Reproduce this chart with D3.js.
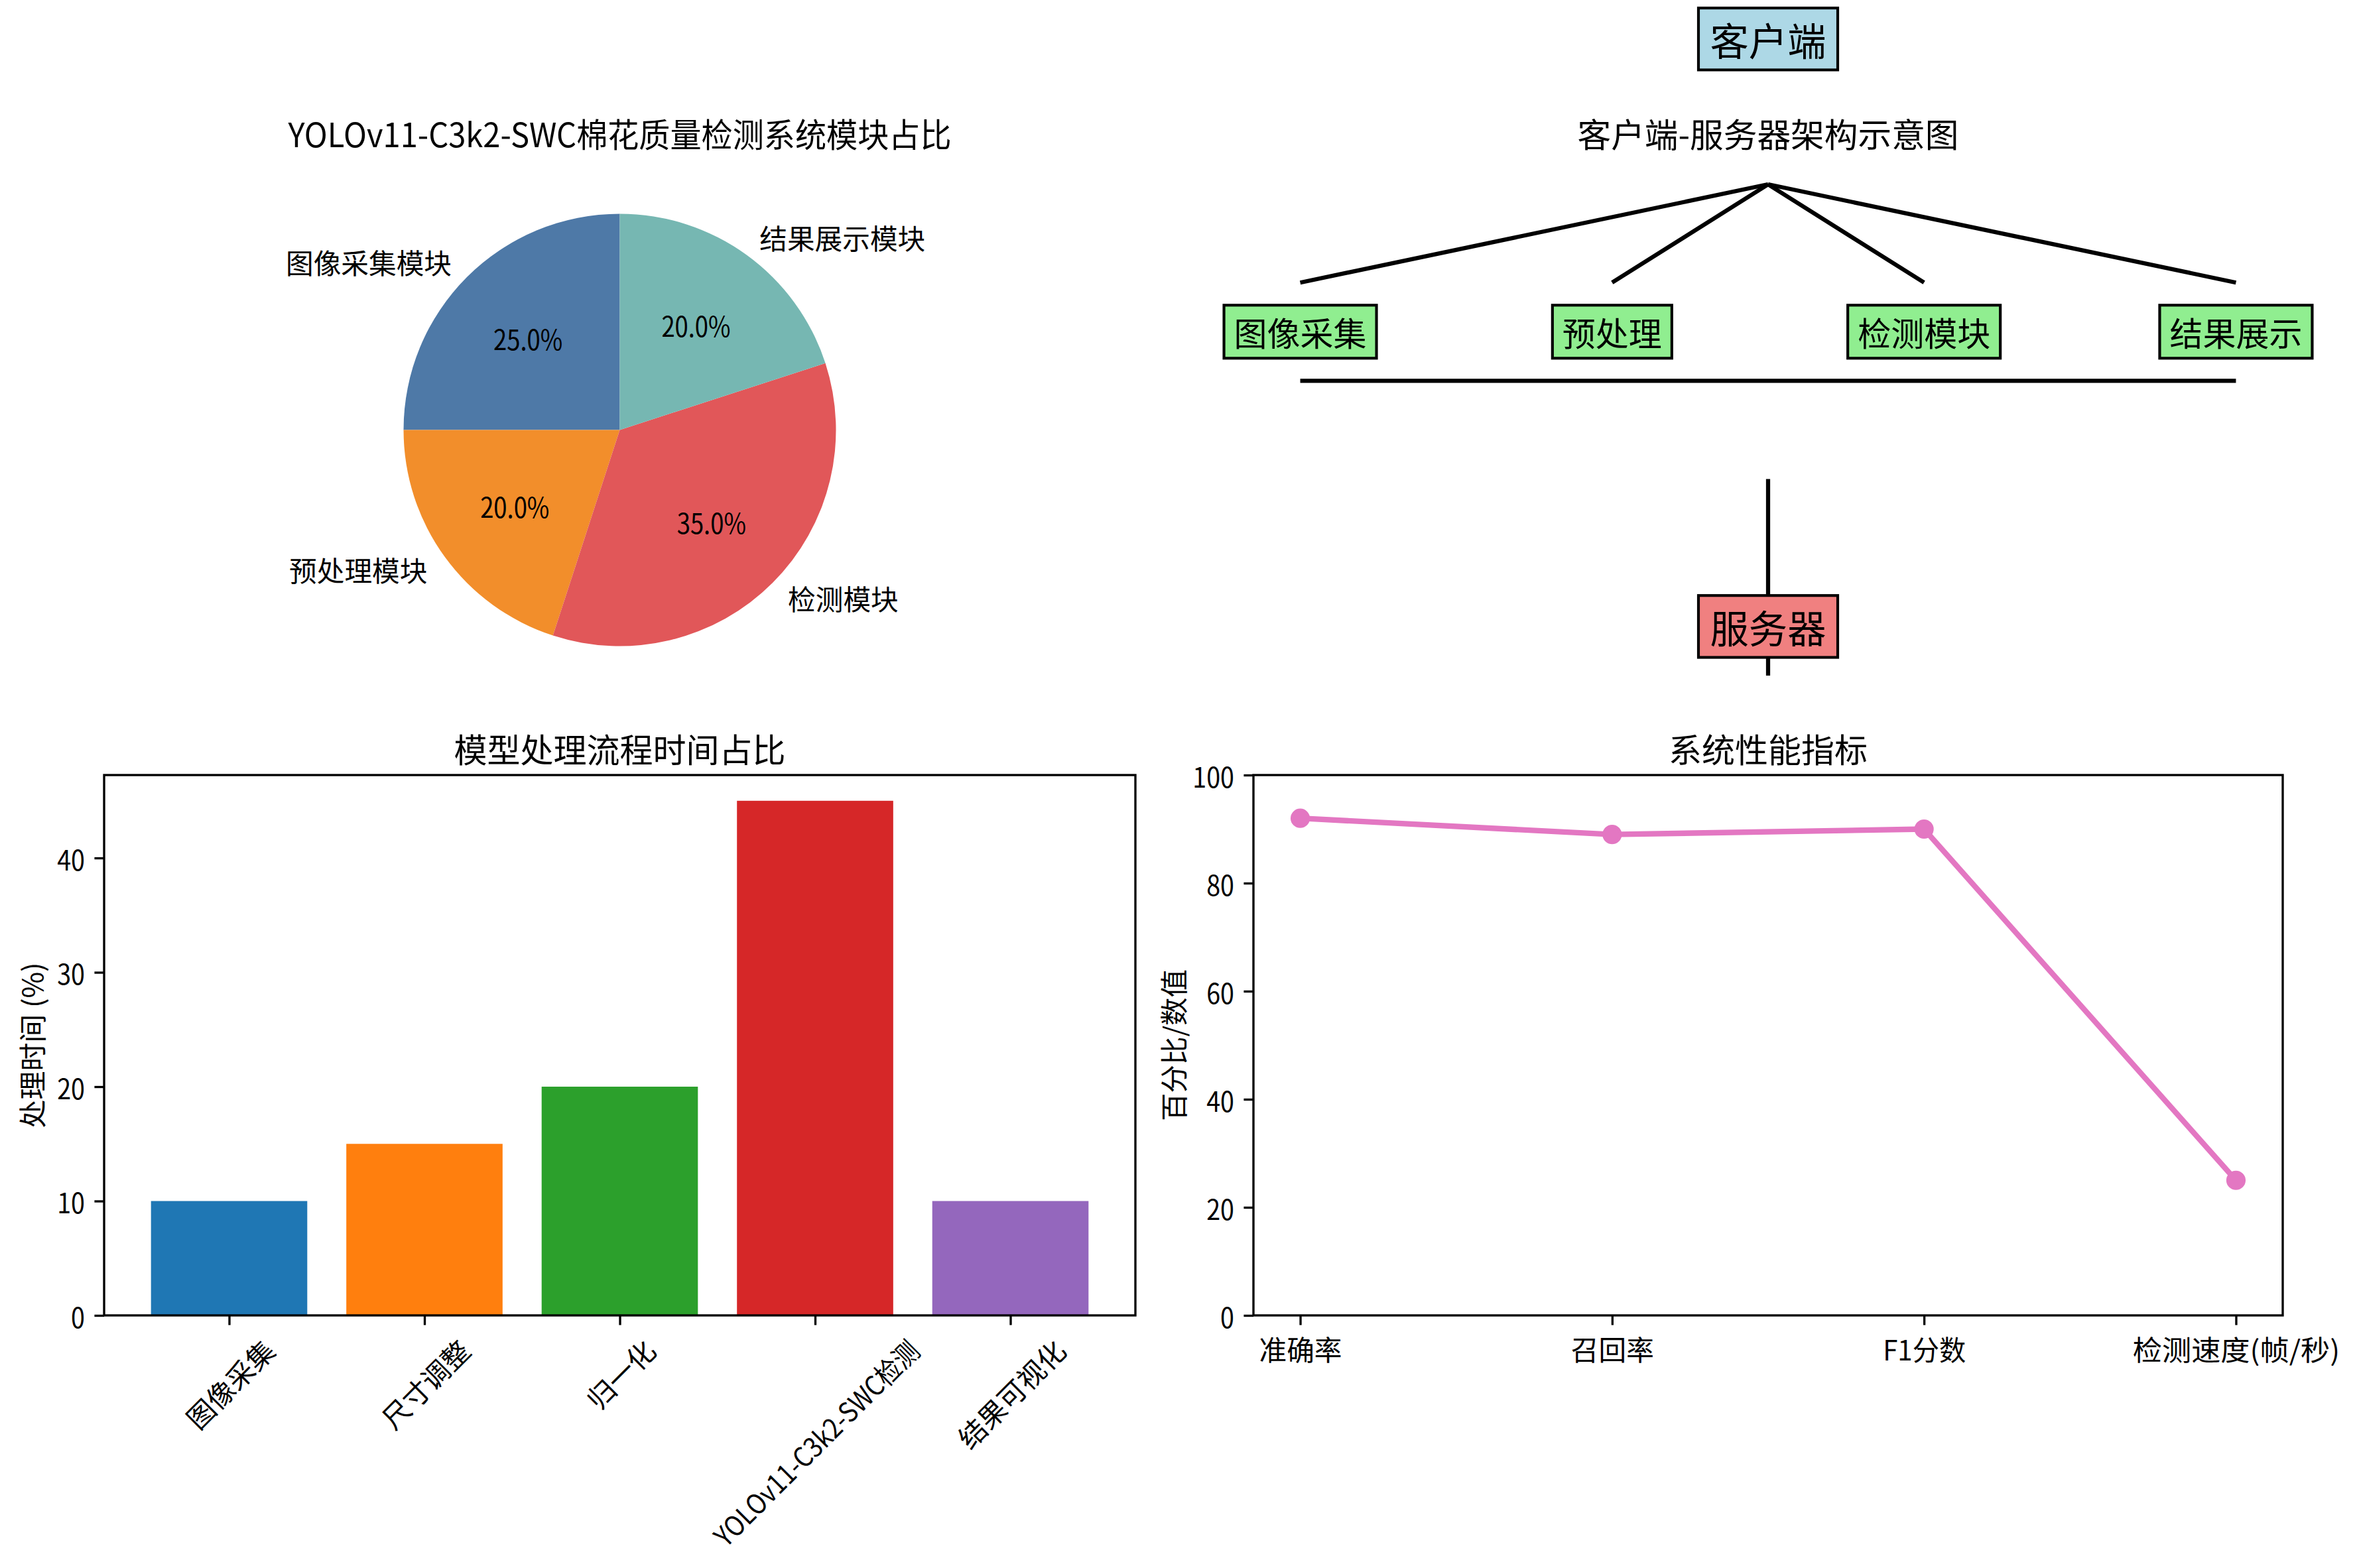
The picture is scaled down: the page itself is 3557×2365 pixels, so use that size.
<!DOCTYPE html>
<html lang="zh">
<head>
  <meta charset="UTF-8">
  <script src="https://d3js.org/d3.v7.min.js"></script>
  <style>
    body {
      margin: 0;
      padding: 0;
      background: #fff;
      overflow: hidden;
    }
    svg text {
      font-family: "Noto Sans CJK SC", "Noto Sans", sans-serif;
      fill: #000;
    }
  </style>
</head>
<body>
  <div id="chart"></div>

  <script>
    const width = 3557, height = 2365;
    const PT = 300 / 72;           // figure was saved at 300 dpi

    // pie: system modules
    const pieLabels = ["图像采集模块", "预处理模块", "检测模块", "结果展示模块"];
    const pieValues = [25, 20, 35, 20];
    const pieColors = ["#4e79a7", "#f28e2b", "#e15759", "#76b7b2"];

    // bars: processing time share
    const steps = ["图像采集", "尺寸调整", "归一化", "YOLOv11-C3k2-SWC检测", "结果可视化"];
    const stepTimes = [10, 15, 20, 45, 10];
    const barColors = ["#1f77b4", "#ff7f0e", "#2ca02c", "#d62728", "#9467bd"];
    const timeTicks = [0, 10, 20, 30, 40];

    // line: performance metrics
    const metrics = ["准确率", "召回率", "F1分数", "检测速度(帧/秒)"];
    const metricValues = [92, 89, 90, 25];
    const metricTicks = [0, 20, 40, 60, 80, 100];

    // architecture diagram
    const modules = ["图像采集", "预处理", "检测模块", "结果展示"];
    const clientY = 11.5, hubY = 10, branchY = 9, moduleY = 8.5, busY = 8;
    const linkTop = 7, serverY = 5.5, linkBottom = 5;

    // axes boxes (pixels)
    const colL = { x0: 157, x1: 1712 };
    const colR = { x0: 1890, x1: 3442 };
    const rowT = { y0: 241, y1: 1056 };
    const rowB = { y0: 1169, y1: 1984 };

    const fsTick = 10 * PT, fsTitle = 12 * PT;
    const tickLen = 3.5 * PT, tickPad = 3.5 * PT;
    const spineW = 0.8 * PT;

    // the original font draws ASCII at half width, everything else at full width
    function emWidth(str) {
      let w = 0;
      for (const ch of str) w += ch.charCodeAt(0) < 128 ? 0.5 : 1;
      return w;
    }

    const svg = d3.select("#chart")
      .append("svg")
      .attr("width", width)
      .attr("height", height)
      .attr("viewBox", `0 0 ${width} ${height}`);

    svg.append("rect").attr("width", width).attr("height", height).attr("fill", "#fff");

    function title(cx, top, text) {
      svg.append("text")
        .attr("x", cx)
        .attr("y", top - 41)
        .attr("text-anchor", "middle")
        .attr("dominant-baseline", "central")
        .attr("font-size", fsTitle)
        .text(text);
    }

    function frame(col, row) {
      svg.append("rect")
        .attr("x", col.x0).attr("y", row.y0)
        .attr("width", col.x1 - col.x0).attr("height", row.y1 - row.y0)
        .attr("fill", "none")
        .attr("stroke", "#000")
        .attr("stroke-width", spineW);
    }

    function styleAxis(g) {
      g.select(".domain").remove();
      g.selectAll(".tick line").attr("stroke", "#000").attr("stroke-width", spineW);
      g.selectAll(".tick text").attr("font-size", fsTick).attr("fill", "#000")
        .style("font-family", '"Noto Sans CJK SC", "Noto Sans", sans-serif');
    }

    function ylabel(x, row, text) {
      const cy = (row.y0 + row.y1) / 2;
      svg.append("text")
        .attr("transform", `translate(${x},${cy}) rotate(-90)`)
        .attr("text-anchor", "middle")
        .attr("dominant-baseline", "central")
        .attr("font-size", fsTick)
        .text(text);
    }

    // ---------- pie ----------
    {
      const cx = (colL.x0 + colL.x1) / 2, cy = (rowT.y0 + rowT.y1) / 2;
      const r = (rowT.y1 - rowT.y0) / 2.5;
      title(cx, rowT.y0, "YOLOv11-C3k2-SWC棉花质量检测系统模块占比");

      const pie = d3.pie().sort(null).startAngle(0).endAngle(-2 * Math.PI);
      const arcs = pie(pieValues);
      const arc = d3.arc().innerRadius(0).outerRadius(r);
      const total = d3.sum(pieValues);

      const g = svg.append("g").attr("transform", `translate(${cx},${cy})`);
      g.selectAll("path")
        .data(arcs)
        .enter()
        .append("path")
        .attr("d", arc)
        .attr("fill", (d, i) => pieColors[i]);

      const mid = d => (d.startAngle + d.endAngle) / 2;
      g.selectAll("text.lab")
        .data(arcs)
        .enter()
        .append("text")
        .attr("class", "lab")
        .attr("x", d => Math.sin(mid(d)) * r * 1.1)
        .attr("y", d => -Math.cos(mid(d)) * r * 1.1)
        .attr("text-anchor", d => Math.sin(mid(d)) > 0 ? "start" : "end")
        .attr("dominant-baseline", "central")
        .attr("font-size", fsTick)
        .text((d, i) => pieLabels[i]);

      g.selectAll("text.pct")
        .data(arcs)
        .enter()
        .append("text")
        .attr("class", "pct")
        .attr("x", d => Math.sin(mid(d)) * r * 0.6)
        .attr("y", d => -Math.cos(mid(d)) * r * 0.6)
        .attr("text-anchor", "middle")
        .attr("dominant-baseline", "central")
        .attr("font-size", fsTick)
        .text(d => (d.value / total * 100).toFixed(1) + "%");
    }

    // ---------- architecture diagram ----------
    {
      const x = d3.scalePoint().domain(modules).range([colR.x0, colR.x1]).padding(0.15);
      const y = d3.scaleLinear().domain([4.75, 10.25]).range([rowT.y1, rowT.y0]);
      const hubX = (colR.x0 + colR.x1) / 2;
      const lw = 1.5 * PT;
      title(hubX, rowT.y0, "客户端-服务器架构示意图");

      const lines = svg.append("g").attr("stroke", "#000").attr("stroke-width", lw);
      modules.forEach(m => {
        lines.append("line")
          .attr("x1", hubX).attr("y1", y(hubY))
          .attr("x2", x(m)).attr("y2", y(branchY));
      });
      lines.append("line")
        .attr("x1", x(modules[0])).attr("y1", y(busY))
        .attr("x2", x(modules[modules.length - 1])).attr("y2", y(busY));
      lines.append("line")
        .attr("x1", hubX).attr("y1", y(linkTop))
        .attr("x2", hubX).attr("y2", y(linkBottom));

      function box(cx, cy, text, fs, fill) {
        const g = svg.append("g");
        const rect = g.append("rect");
        g.append("text")
          .attr("x", cx).attr("y", cy)
          .attr("text-anchor", "middle")
          .attr("dominant-baseline", "central")
          .attr("font-size", fs)
          .text(text);
        const tw = emWidth(text) * fs;
        const pad = 0.3 * fs;
        rect.attr("x", cx - tw / 2 - pad).attr("y", cy - fs / 2 - pad)
          .attr("width", tw + 2 * pad).attr("height", fs + 2 * pad)
          .attr("fill", fill)
          .attr("stroke", "#000")
          .attr("stroke-width", 1 * PT);
      }

      box(hubX, y(clientY) + 3, "客户端", 14 * PT, "#add8e6");
      modules.forEach(m => box(x(m), y(moduleY), m, 12 * PT, "#90ee90"));
      box(hubX, y(serverY), "服务器", 14 * PT, "#f08080");
    }

    // ---------- bar chart ----------
    {
      const x = d3.scaleBand().domain(steps).range([colL.x0, colL.x1])
        .paddingInner(0.2).paddingOuter(0.24);
      const y = d3.scaleLinear().domain([0, d3.max(stepTimes) * 1.05]).range([rowB.y1, rowB.y0]);
      title((colL.x0 + colL.x1) / 2, rowB.y0, "模型处理流程时间占比");

      svg.append("g")
        .selectAll("rect")
        .data(steps)
        .enter()
        .append("rect")
        .attr("x", d => x(d))
        .attr("y", (d, i) => y(stepTimes[i]))
        .attr("width", x.bandwidth())
        .attr("height", (d, i) => y(0) - y(stepTimes[i]))
        .attr("fill", (d, i) => barColors[i]);

      const ya = svg.append("g")
        .attr("transform", `translate(${colL.x0},0)`)
        .call(d3.axisLeft(y).tickValues(timeTicks).tickSize(tickLen).tickPadding(tickPad));
      styleAxis(ya);
      ya.selectAll(".tick text").attr("dominant-baseline", "central").attr("dy", null);

      const centers = d3.scalePoint().domain(steps)
        .range([x(steps[0]) + x.bandwidth() / 2, x(steps[steps.length - 1]) + x.bandwidth() / 2]);
      const xa = svg.append("g")
        .attr("transform", `translate(0,${rowB.y1})`)
        .call(d3.axisBottom(centers).tickSize(tickLen).tickPadding(tickPad));
      styleAxis(xa);
      xa.selectAll(".tick text").each(function (d) {
        const len = emWidth(d) * fsTick;
        const side = (len + fsTick) * Math.SQRT1_2;
        const cy = tickLen + tickPad + side / 2;
        d3.select(this).attr("x", 0).attr("y", 0).attr("dy", null)
          .attr("text-anchor", "middle")
          .attr("dominant-baseline", "central")
          .attr("transform", `translate(0,${cy}) rotate(-45)`);
      });

      frame(colL, rowB);
      ylabel(47, rowB, "处理时间 (%)");
    }

    // ---------- line chart ----------
    {
      const x = d3.scalePoint().domain(metrics).range([colR.x0, colR.x1]).padding(0.15);
      const y = d3.scaleLinear().domain([0, 100]).range([rowB.y1, rowB.y0]);
      title((colR.x0 + colR.x1) / 2, rowB.y0, "系统性能指标");

      const line = d3.line()
        .x((d, i) => x(metrics[i]))
        .y(d => y(d));

      svg.append("path")
        .datum(metricValues)
        .attr("d", line)
        .attr("fill", "none")
        .attr("stroke", "#e377c2")
        .attr("stroke-width", 2 * PT)
        .attr("stroke-linejoin", "round");

      svg.append("g")
        .selectAll("circle")
        .data(metricValues)
        .enter()
        .append("circle")
        .attr("cx", (d, i) => x(metrics[i]))
        .attr("cy", d => y(d))
        .attr("r", 3 * PT)
        .attr("fill", "#e377c2")
        .attr("stroke", "#e377c2")
        .attr("stroke-width", 1 * PT);

      const ya = svg.append("g")
        .attr("transform", `translate(${colR.x0},0)`)
        .call(d3.axisLeft(y).tickValues(metricTicks).tickSize(tickLen).tickPadding(tickPad));
      styleAxis(ya);
      ya.selectAll(".tick text").attr("dominant-baseline", "central").attr("dy", null);

      const xa = svg.append("g")
        .attr("transform", `translate(0,${rowB.y1})`)
        .call(d3.axisBottom(x).tickSize(tickLen).tickPadding(tickPad));
      styleAxis(xa);
      xa.selectAll(".tick text")
        .attr("dy", null)
        .attr("y", tickLen + tickPad + fsTick / 2)
        .attr("dominant-baseline", "central");

      frame(colR, rowB);
      ylabel(1768, rowB, "百分比/数值");
    }

    // squeeze Latin runs to the half-width metrics of the original font
    svg.selectAll("text").each(function () {
      const t = d3.select(this);
      const str = t.text();
      if (!/[\x00-\x7f]/.test(str)) return;
      const fs = +t.attr("font-size");
      t.attr("textLength", emWidth(str) * fs).attr("lengthAdjust", "spacingAndGlyphs");
    });
  </script>
</body>
</html>
